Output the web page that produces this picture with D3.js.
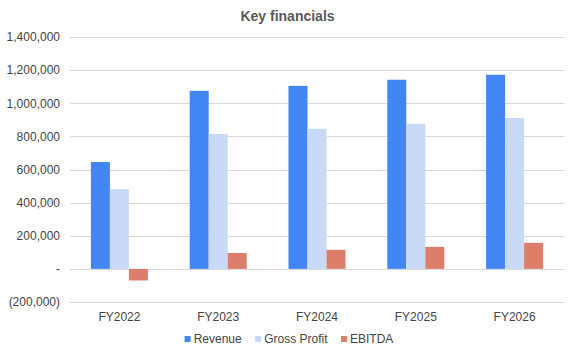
<!DOCTYPE html>
<html>
<head>
<meta charset="utf-8">
<script src="https://cdn.jsdelivr.net/npm/d3@7"></script>
<style>
  html, body { margin: 0; padding: 0; background: #fff; }
  svg { display: block; font-family: "Liberation Sans", Arial, sans-serif; }
</style>
</head>
<body>
<svg id="chart" width="575" height="355"></svg>
<script>
const categories = ["FY2022", "FY2023", "FY2024", "FY2025", "FY2026"];
const seriesNames = ["Revenue", "Gross Profit", "EBITDA"];
const revenue = [645000, 1075000, 1105000, 1142000, 1172000];
const grossProfit = [482000, 815000, 846000, 876000, 911000];
const ebitda = [-70000, 96000, 115000, 133000, 157000];
const yTicks = [-200000, 0, 200000, 400000, 600000, 800000, 1000000, 1200000, 1400000];
const colors = ["#4285f4", "#c9daf8", "#dd7e6b"];
const title = "Key financials";

const seriesValues = [revenue, grossProfit, ebitda];
const svg = d3.select("#chart");

const plotLeft = 70, plotRight = 564, plotTop = 37, plotBottom = 302;

const x0 = d3.scaleBand().domain(categories).range([plotLeft, plotRight])
  .paddingInner(0.423).paddingOuter(0.2115);
const x1 = d3.scaleBand().domain(seriesNames).range([0, x0.bandwidth()]).padding(0);
const y = d3.scaleLinear().domain([-200000, 1400000]).range([plotBottom, plotTop]);

// title
svg.append("text")
  .attr("x", 287.5).attr("y", 21)
  .attr("text-anchor", "middle")
  .attr("font-size", 14).attr("font-weight", "bold")
  .attr("fill", "#595959")
  .text(title);

// gridlines
svg.append("g").selectAll("line").data(yTicks).join("line")
  .attr("x1", plotLeft).attr("x2", plotRight)
  .attr("y1", d => Math.round(y(d)) + 0.5).attr("y2", d => Math.round(y(d)) + 0.5)
  .attr("stroke", "#d9d9d9").attr("stroke-width", 1);

// y axis labels
const fmt = d3.format(",");
const yAxis = d3.axisLeft(y).tickValues(yTicks).tickSize(0).tickPadding(0)
  .tickFormat(d => d === 0 ? "-" : d < 0 ? "(" + fmt(-d) + ")" : fmt(d));
const gy = svg.append("g").attr("transform", `translate(${plotLeft - 10},0)`).call(yAxis);
gy.select(".domain").remove();
gy.selectAll("text").attr("font-size", 12).attr("fill", "#444")
  .attr("font-family", "Liberation Sans, Arial, sans-serif");

// bars
const groups = svg.append("g").selectAll("g").data(categories).join("g")
  .attr("transform", d => `translate(${x0(d)},0)`);
groups.selectAll("rect")
  .data((c, i) => seriesNames.map((s, j) => ({ s, v: seriesValues[j][i], j })))
  .join("rect")
  .attr("x", d => x1(d.s))
  .attr("width", x1.bandwidth())
  .attr("y", d => y(Math.max(0, d.v)))
  .attr("height", d => Math.abs(y(d.v) - y(0)))
  .attr("fill", d => colors[d.j]);

// x axis labels
const xAxis = d3.axisBottom(x0).tickSize(0).tickPadding(0);
const gx = svg.append("g").attr("transform", `translate(0,${plotBottom + 10})`).call(xAxis);
gx.select(".domain").remove();
gx.selectAll("text").attr("font-size", 12).attr("fill", "#444")
  .attr("font-family", "Liberation Sans, Arial, sans-serif");

// legend
const legend = svg.append("g");
let lx = 0;
const gap = 13.5;
seriesNames.forEach((s, i) => {
  const g = legend.append("g").attr("transform", `translate(${lx},0)`);
  g.append("rect").attr("x", 0).attr("y", -7).attr("width", 6).attr("height", 6).attr("fill", colors[i]);
  const t = g.append("text").attr("x", 9).attr("y", 0).attr("font-size", 12).attr("fill", "#444").text(s);
  const w = t.node().getComputedTextLength();
  lx += 9 + w + gap;
});
const totalW = lx - gap;
legend.attr("transform", `translate(${289 - totalW / 2},343)`);
</script>
</body>
</html>
